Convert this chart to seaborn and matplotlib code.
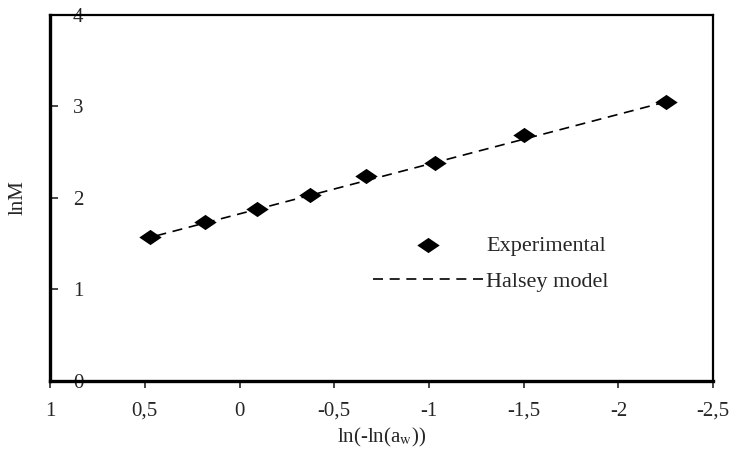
import matplotlib
matplotlib.use("Agg")
import matplotlib.pyplot as plt
from matplotlib.path import Path
import seaborn as sns
import pandas as pd

# values
exp_x = [0.47, 0.18, -0.09, -0.37, -0.67, -1.03, -1.50, -2.25]
exp_lnM = [1.57, 1.74, 1.88, 2.03, 2.24, 2.38, 2.69, 3.05]

# Halsey model line (end points)
model_x = [0.47, -2.25]
model_lnM = [1.57, 3.05]

x_ticks = [1, 0.5, 0, -0.5, -1, -1.5, -2, -2.5]
x_tick_labels = ["1", "0,5", "0", "-0,5", "-1", "-1,5", "-2", "-2,5"]
y_ticks = [0, 1, 2, 3, 4]
y_tick_labels = ["0", "1", "2", "3", "4"]

exp_df = pd.DataFrame({"x": exp_x, "lnM": exp_lnM})
model_df = pd.DataFrame({"x": model_x, "lnM": model_lnM})

sns.set_style("ticks")
plt.rcParams["font.family"] = ["Liberation Serif", "DejaVu Serif"]
plt.rcParams["mathtext.fontset"] = "stix"

# wide flattened diamond
diamond = Path([(-1, 0), (0, 0.68), (1, 0), (0, -0.68), (-1, 0)],
               [Path.MOVETO, Path.LINETO, Path.LINETO, Path.LINETO, Path.CLOSEPOLY])

fig = plt.figure(figsize=(7.36, 4.54), dpi=100)
ax = fig.add_axes([0.068, 0.161, 0.901, 0.806])

sns.lineplot(data=model_df, x="x", y="lnM", ax=ax, color="black", lw=1.2,
             dashes=False, linestyle=(0, (6, 4)), label="Halsey model", zorder=2)
sns.scatterplot(data=exp_df, x="x", y="lnM", ax=ax, marker=diamond, s=260,
                color="black", edgecolor="black", linewidth=0, label="Experimental",
                zorder=3)

ax.set_xlim(1, -2.5)
ax.set_ylim(0, 4)
ax.set_xticks(x_ticks)
ax.set_xticklabels(x_tick_labels)
ax.set_yticks(y_ticks)
ax.set_yticklabels(y_tick_labels)

ax.tick_params(axis="x", direction="out", length=5, width=1.2, pad=10, labelsize=15)
ax.tick_params(axis="y", direction="in", length=6, width=1.2, pad=-24, labelsize=15)

for side in ["left", "bottom"]:
    ax.spines[side].set_linewidth(2.4)
for side in ["top", "right"]:
    ax.spines[side].set_linewidth(1.6)
for sp in ax.spines.values():
    sp.set_color("black")
    sp.set_zorder(1)

ax.set_xlabel("ln(-ln(a$_\\mathrm{w}$))", fontsize=15, labelpad=4)
ax.set_ylabel("lnM", fontsize=15, labelpad=16)

handles, labels = ax.get_legend_handles_labels()
order = [labels.index("Experimental"), labels.index("Halsey model")]
ax.legend([handles[i] for i in order], [labels[i] for i in order],
          loc="center left", bbox_to_anchor=(0.470, 0.320), frameon=False,
          borderpad=0, handlelength=5.0, handletextpad=0.1, labelspacing=0.68,
          fontsize=16)

fig.savefig("out.png", dpi=100)
